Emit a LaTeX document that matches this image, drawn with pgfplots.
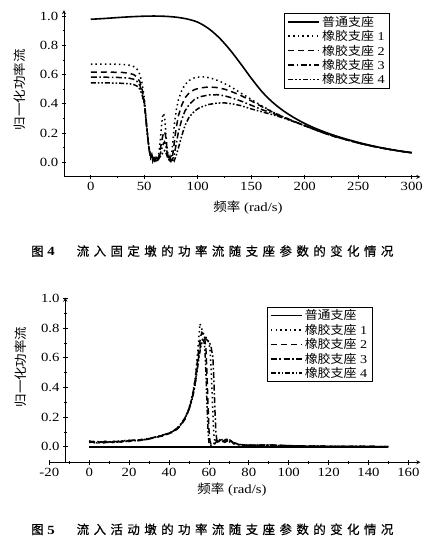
\documentclass[border=0pt]{standalone}
\usepackage{fontspec}
\setmainfont{Liberation Serif}[FakeStretch=1.18]
\newfontfamily\cjk{Noto Sans CJK SC}[FakeStretch=1.08]
\newfontfamily\cjkcap{Noto Sans CJK SC}[FakeBold=0.5]
\newcommand\cc[1]{\makebox[16.9pt][l]{#1}}
\usepackage{pgfplots}
\pgfplotsset{compat=1.18}
\pgfplotsset{
  mybase/.style={
    scale only axis,
    axis line style={-, line width=0.8pt},
    tick align=outside,
    major tick length=4.5pt,
    minor tick length=2.5pt,
    every tick/.style={black, line width=0.7pt},
    tick label style={font=\fontsize{12.5}{14}\selectfont},
    /pgf/number format/assume math mode=true,
    yticklabel style={/pgf/number format/.cd, fixed, fixed zerofill, precision=1},
    clip=false,
    legend cell align=left,
    legend style={draw=black, line width=0.8pt, font=\fontsize{12}{13.5}\selectfont,
      inner xsep=3pt, inner ysep=0.5pt, row sep=-1.2pt, anchor=north west},
  },
  s0/.style={black, line width=1.6pt},
  s1/.style={black, line width=1.5pt, dash pattern=on 1.5pt off 3.2pt},
  s2/.style={black, line width=1.5pt, dash pattern=on 6pt off 4pt},
  s3/.style={black, line width=1.5pt, dash pattern=on 6pt off 2.5pt on 1.6pt off 2.5pt},
  s4/.style={black, line width=1.5pt, dash pattern=on 5pt off 2pt on 1.6pt off 2pt on 1.6pt off 2pt},
}
\pgfplotsset{legend image code/.code={\draw[#1] (0pt,0pt) -- (31pt,0pt);}}
\begin{document}
\begin{tikzpicture}
\useasboundingbox (0pt,0pt) rectangle (438pt,542pt);
% ---------------- Figure 4 ----------------
\begin{axis}[mybase, at={(64pt,365.1pt)}, anchor=south west,
  width=356.3pt, height=166.7pt,
  xmin=-25, xmax=308, ymin=-0.1, ymax=1.04,
  axis x line=bottom, axis y line=left,
  xtick={0,50,100,150,200,250,300}, minor x tick num=1,
  ytick={0,0.2,0.4,0.6,0.8,1.0}, minor y tick num=1,
  legend style={at={(0.618,0.983)}}]
\addplot[s0, smooth] table {
0 0.978
10 0.982
20 0.987
30 0.992
40 0.996
50 0.999
60 1.000
70 0.998
80 0.992
90 0.980
100 0.958
110 0.915
120 0.852
130 0.770
140 0.675
150 0.575
160 0.483
170 0.410
180 0.352
190 0.305
200 0.265
210 0.232
220 0.203
230 0.178
240 0.156
250 0.136
260 0.118
270 0.102
280 0.088
290 0.076
300 0.066
};
\addlegendentry{{\cjk 普通支座}}
\addplot[s1] table {
0 0.672
10 0.672
20 0.671
30 0.669
36 0.664
40 0.655
43 0.64
46 0.60
48 0.54
50 0.44
51 0.36
52 0.28
53 0.20
54 0.13
55 0.08
56 0.04
57 0.06
58 0.02
59 0.04
60 0.01
61 0.03
62 0.015
63 0.04
64 0.08
65 0.15
66 0.24
67 0.31
68 0.335
69 0.31
70 0.22
71 0.12
72 0.05
73 0.02
74 0.01
75 0.03
76 0.08
77 0.16
78 0.25
80 0.36
82 0.43
85 0.49
88 0.53
92 0.56
97 0.578
102 0.584
107 0.583
112 0.576
120 0.556
130 0.52
140 0.475
150 0.43
160 0.385
170 0.345
180 0.31
190 0.28
200 0.25
210 0.222
220 0.195
230 0.172
240 0.152
250 0.132
260 0.115
270 0.1
280 0.087
290 0.075
300 0.065
};
\addlegendentry{{\cjk 橡胶支座} 1}
\addplot[s2] table {
0 0.617
10 0.617
20 0.616
30 0.614
36 0.609
40 0.60
43 0.585
46 0.55
48 0.50
50 0.42
51 0.35
52 0.27
53 0.19
54 0.12
55 0.07
56 0.03
57 0.05
58 0.015
59 0.03
60 0.01
61 0.025
62 0.01
63 0.03
64 0.05
65 0.09
66 0.13
67 0.17
68 0.2
69 0.21
70 0.18
71 0.11
72 0.05
73 0.02
74 0.04
75 0.01
76 0.03
77 0.07
78 0.13
79 0.19
80 0.24
82 0.32
85 0.39
88 0.44
92 0.475
97 0.497
102 0.508
110 0.515
118 0.511
125 0.5
132 0.482
140 0.458
150 0.42
160 0.38
170 0.343
180 0.31
190 0.28
200 0.25
210 0.222
220 0.195
230 0.172
240 0.152
250 0.132
260 0.115
270 0.1
280 0.087
290 0.075
300 0.065
};
\addlegendentry{{\cjk 橡胶支座} 2}
\addplot[s3] table {
0 0.582
10 0.582
20 0.581
30 0.579
36 0.575
40 0.568
43 0.555
46 0.525
48 0.48
50 0.41
51 0.34
52 0.26
53 0.19
54 0.12
55 0.07
56 0.03
57 0.05
58 0.01
59 0.035
60 0.015
61 0.03
62 0.01
63 0.02
64 0.04
65 0.06
66 0.08
67 0.11
68 0.13
69 0.14
70 0.12
71 0.08
72 0.04
73 0.02
74 0.03
75 0.01
76 0.02
77 0.03
78 0.05
79 0.09
80 0.13
82 0.21
85 0.29
88 0.35
92 0.395
97 0.43
102 0.448
110 0.46
118 0.462
125 0.455
132 0.44
140 0.42
150 0.39
160 0.36
170 0.335
180 0.307
190 0.279
200 0.25
210 0.222
220 0.195
230 0.172
240 0.152
250 0.132
260 0.115
270 0.1
280 0.087
290 0.075
300 0.065
};
\addlegendentry{{\cjk 橡胶支座} 3}
\addplot[s4] table {
0 0.543
10 0.543
20 0.542
30 0.54
36 0.537
40 0.532
43 0.522
46 0.5
48 0.46
50 0.4
51 0.33
52 0.26
53 0.19
54 0.12
55 0.07
56 0.03
57 0.05
58 0.01
59 0.03
60 0.01
61 0.02
62 0.005
63 0.015
64 0.03
66 0.05
68 0.07
69 0.08
70 0.07
71 0.05
72 0.03
74 0.02
76 0.01
77 0.025
78 0.01
79 0.03
80 0.05
82 0.1
85 0.18
88 0.25
92 0.31
97 0.35
102 0.375
110 0.395
118 0.405
125 0.406
132 0.4
140 0.388
150 0.365
160 0.345
170 0.325
180 0.303
190 0.277
200 0.25
210 0.222
220 0.195
230 0.172
240 0.152
250 0.132
260 0.115
270 0.1
280 0.087
290 0.075
300 0.065
};
\addlegendentry{{\cjk 橡胶支座} 4}
\end{axis}
\node[rotate=90, font=\cjk\fontsize{12.5}{14}\selectfont] at (20pt,452pt) {归一化功率流};
\node[font=\fontsize{12.5}{14}\selectfont] at (248pt,334.5pt) {{\cjk 频率} (rad/s)};
\node[font=\fontsize{12.5}{14}\selectfont, anchor=west, inner sep=0pt] at (31pt,291pt) {\makebox[45.5pt][l]{{\cjkcap 图}\ \textbf{4}}{\cjkcap \cc{流}\cc{入}\cc{固}\cc{定}\cc{墩}\cc{的}\cc{功}\cc{率}\cc{流}\cc{随}\cc{支}\cc{座}\cc{参}\cc{数}\cc{的}\cc{变}\cc{化}\cc{情}况}};
% ---------------- Figure 5 ----------------
\begin{axis}[mybase, at={(65.3pt,79.7pt)}, anchor=south west,
  width=355.1pt, height=164.7pt,
  xmin=-12, xmax=166, ymin=-0.105, ymax=1.005,
  axis x line=none, axis y line=left,
  ytick={0,0.2,0.4,0.6,0.8,1.0}, minor y tick num=1]
\end{axis}
\begin{axis}[mybase, at={(49.3pt,79.7pt)}, anchor=south west,
  width=371.1pt, height=164.7pt,
  xmin=-20, xmax=166, ymin=-0.105, ymax=1.005,
  axis x line=bottom, axis y line=none,
  xtick={-20,0,20,40,60,80,100,120,140,160}, minor x tick num=1,
  legend style={at={(0.586,0.945)}}]
\addplot[s0] table {
0 0
150 0
};
\addlegendentry{{\cjk 普通支座}}
\addplot[s1] table {
0 0.035
2 0.025
4 0.03
6 0.022
8 0.032
10 0.028
12 0.035
14 0.03
16 0.038
18 0.033
20 0.042
22 0.036
24 0.045
26 0.04
28 0.05
30 0.055
32 0.06
34 0.065
36 0.072
38 0.08
40 0.09
42 0.1
44 0.12
46 0.15
48 0.19
50 0.26
51 0.31
52 0.37
53 0.45
54 0.58
55 0.74
55.5 0.83
56 0.81
57 0.77
58 0.745
59 0.73
60 0.70
60.5 0.66
61 0.55
61.5 0.4
62 0.22
62.5 0.08
63 0.03
64 0.05
65 0.035
66 0.055
67 0.04
68 0.05
70 0.035
72 0.02
75 0.012
80 0.008
85 0.012
90 0.01
95 0.008
100 0.006
110 0.004
120 0.003
135 0.002
150 0.001
};
\addlegendentry{{\cjk 橡胶支座} 1}
\addplot[s2] table {
0 0.03
2 0.036
4 0.027
6 0.034
8 0.025
10 0.033
12 0.028
14 0.037
16 0.031
18 0.04
20 0.035
22 0.043
24 0.038
26 0.048
28 0.045
30 0.052
32 0.058
34 0.066
36 0.07
38 0.078
40 0.088
42 0.1
44 0.118
46 0.145
48 0.185
50 0.25
51 0.3
52 0.36
53 0.44
54 0.55
55 0.67
56 0.75
56.5 0.77
57 0.76
58 0.72
58.5 0.66
59 0.5
59.5 0.3
60 0.12
60.5 0.04
61 0.02
62 0.01
63 0.02
64 0.04
66 0.03
68 0.045
70 0.055
71 0.04
72 0.025
75 0.015
80 0.01
90 0.012
100 0.007
110 0.004
120 0.003
150 0.001
};
\addlegendentry{{\cjk 橡胶支座} 2}
\addplot[s3] table {
0 0.04
2 0.03
4 0.036
6 0.028
8 0.037
10 0.03
12 0.038
14 0.033
16 0.041
18 0.035
20 0.044
22 0.04
24 0.048
26 0.043
28 0.052
30 0.056
32 0.062
34 0.068
36 0.075
38 0.083
40 0.093
42 0.105
44 0.125
46 0.155
48 0.195
50 0.255
51 0.3
52 0.35
53 0.42
54 0.52
55 0.62
56 0.7
57 0.73
57.5 0.74
58 0.735
59 0.72
60 0.71
61 0.68
62 0.6
62.5 0.45
63 0.25
63.5 0.1
64 0.04
65 0.05
66 0.04
68 0.03
70 0.045
72 0.03
75 0.015
80 0.01
90 0.011
100 0.007
110 0.004
120 0.003
150 0.001
};
\addlegendentry{{\cjk 橡胶支座} 3}
\addplot[s4] table {
0 0.028
2 0.034
4 0.025
6 0.031
8 0.027
10 0.035
12 0.03
14 0.036
16 0.034
18 0.042
20 0.038
22 0.045
24 0.041
26 0.05
28 0.047
30 0.054
32 0.06
34 0.067
36 0.074
38 0.082
40 0.092
42 0.104
44 0.122
46 0.15
48 0.19
50 0.25
51 0.29
52 0.34
53 0.41
54 0.5
55 0.6
56 0.68
57 0.72
57.5 0.71
58 0.66
58.5 0.5
59 0.3
59.5 0.12
60 0.03
61 0.01
62 0.02
64 0.03
66 0.045
68 0.035
70 0.05
72 0.03
75 0.015
80 0.009
90 0.01
100 0.006
110 0.004
120 0.003
150 0.001
};
\addlegendentry{{\cjk 橡胶支座} 4}
\end{axis}
\node[rotate=90, font=\cjk\fontsize{12.5}{14}\selectfont] at (21pt,175pt) {归一化功率流};
\node[font=\fontsize{12.5}{14}\selectfont] at (232pt,52pt) {{\cjk 频率} (rad/s)};
\node[font=\fontsize{12.5}{14}\selectfont, anchor=west, inner sep=0pt] at (31pt,12.7pt) {\makebox[45.5pt][l]{{\cjkcap 图}\ \textbf{5}}{\cjkcap \cc{流}\cc{入}\cc{活}\cc{动}\cc{墩}\cc{的}\cc{功}\cc{率}\cc{流}\cc{随}\cc{支}\cc{座}\cc{参}\cc{数}\cc{的}\cc{变}\cc{化}\cc{情}况}};
\end{tikzpicture}
\end{document}
